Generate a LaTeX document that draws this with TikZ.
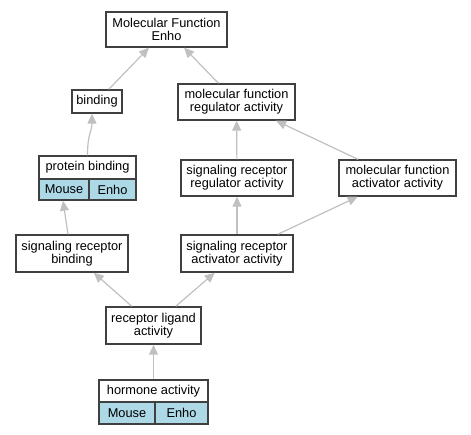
\documentclass[tikz,border=0pt]{standalone}
\usepackage{fontspec}
\setmainfont{Liberation Sans}
\usetikzlibrary{arrows.meta,calc}
\definecolor{edgegray}{HTML}{C0C0C0}
\definecolor{boxline}{HTML}{404040}
\definecolor{cellblue}{HTML}{ADD8E6}
\tikzset{
  box/.style={draw=boxline, line width=1.4pt, fill=white, align=center, inner sep=0pt,
    font=\fontsize{12.8}{12.9}\selectfont},
  cell/.style={box, fill=cellblue},
  link/.style={draw=edgegray, line width=1.2pt,
    -{Triangle[length=10pt,width=9pt,fill=edgegray]}},
}
\begin{document}
\begin{tikzpicture}[x=1pt,y=-1pt]
\useasboundingbox (0,0) rectangle (471,435);
\node[box, minimum width=121pt, minimum height=35pt] (mf) at (166.5,29.5) {Molecular Function\\Enho};
\node[box, minimum width=50pt, minimum height=23pt] (bind) at (97,101.5) {binding};
\node[box, minimum width=117pt, minimum height=36pt] (mfra) at (236.5,102) {molecular function\\regulator activity};
\node[box, minimum width=97pt, minimum height=23pt] (pbh) at (87.5,167.5) {protein binding};
\node[cell, minimum width=50pt, minimum height=21pt] (pbm) at (64,189.5) {Mouse};
\node[cell, minimum width=47pt, minimum height=21pt] (pbe) at (112.5,189.5) {Enho};
\node[box, minimum width=112pt, minimum height=36pt] (srra) at (237,178) {signaling receptor\\regulator activity};
\node[box, minimum width=117pt, minimum height=36pt] (mfaa) at (397.5,178) {molecular function\\activator activity};
\node[box, minimum width=112pt, minimum height=37pt] (srb) at (72,253.5) {signaling receptor\\binding};
\node[box, minimum width=112pt, minimum height=37pt] (srac) at (237,253.5) {signaling receptor\\activator activity};
\node[box, minimum width=95pt, minimum height=37pt] (rla) at (153.5,325.5) {receptor ligand\\activity};
\node[box, minimum width=109pt, minimum height=22pt] (hah) at (153.5,391) {hormone activity};
\node[cell, minimum width=56pt, minimum height=22pt] (ham) at (127,413) {Mouse};
\node[cell, minimum width=53pt, minimum height=22pt] (hae) at (181.5,413) {Enho};

\draw[link] (bind) -- (mf);
\draw[link] (mfra) -- (mf);
\draw[link] (pbh.north) .. controls ($(pbh.north)+(0,-22)$) and ($(bind.south)+(-5,18)$) .. ($(bind.south)+(-5,0)$);
\draw[link] (srra) -- (mfra);
\draw[link] (mfaa) -- (mfra);
\draw[link] ($(srb.north)+(-4,0)$) -- ($(pbm.south)+(-1,0)$);
\draw[link] (srac) -- (srra);
\draw[link] (srac) -- (mfaa);
\draw[link] (rla) -- (srb);
\draw[link] (rla) -- (srac);
\draw[link] (hah) -- (rla);
\end{tikzpicture}
\end{document}
